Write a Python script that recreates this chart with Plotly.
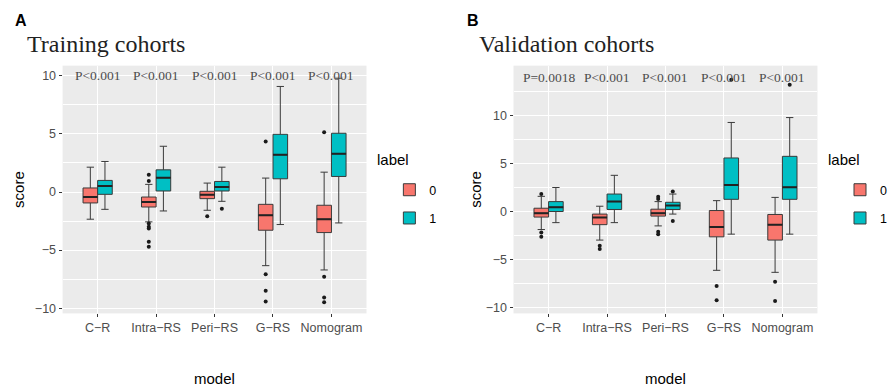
import plotly.graph_objects as go

categories = ["C\u2212R", "Intra\u2212RS", "Peri\u2212RS", "G\u2212RS", "Nomogram"]
group_labels = ["0", "1"]
group_colors = ["#F8766D", "#00BFC4"]

# ---------------- Training cohorts ----------------
train0_low = [-2.34, -2.57, -1.57, -6.34, -6.71]
train0_q1 = [-0.94, -1.29, -0.57, -3.29, -3.49]
train0_med = [-0.43, -0.86, -0.23, -2.00, -2.34]
train0_q3 = [0.35, -0.43, 0.06, -1.06, -1.14]
train0_up = [2.14, 0.66, 0.77, 1.20, 1.71]
train0_out = [[], [1.49, 0.94, -2.70, -3.00, -3.14, -4.29, -4.71], [-2.09],
              [4.34, -7.09, -8.49, -9.43], [5.14, -7.29, -9.09, -9.49]]

train1_low = [-1.49, -1.63, -0.80, -2.80, -2.66]
train1_q1 = [-0.20, 0.09, 0.09, 1.14, 1.34]
train1_med = [0.51, 1.23, 0.43, 3.20, 3.29]
train1_q3 = [1.00, 1.91, 0.91, 4.97, 5.06]
train1_up = [2.63, 3.94, 2.14, 9.09, 9.80]
train1_out = [[], [], [-1.43], [], []]

train_p = ["P<0.001", "P<0.001", "P<0.001", "P<0.001", "P<0.001"]

# ---------------- Validation cohorts ----------------
valid0_low = [-1.88, -2.98, -1.50, -6.13, -6.34]
valid0_q1 = [-0.58, -1.37, -0.48, -2.64, -2.98]
valid0_med = [-0.17, -0.62, -0.17, -1.61, -1.37]
valid0_q3 = [0.34, -0.27, 0.24, 0.10, -0.31]
valid0_up = [1.58, 0.55, 1.03, 1.13, 1.47]
valid0_out = [[1.82, -2.19, -2.64], [-3.56, -3.90], [1.54, 1.30, -2.12, -2.36],
              [-7.77, -9.25], [-7.33, -9.32]]

valid1_low = [-1.16, -1.16, -0.27, -2.36, -2.36]
valid1_q1 = [0.00, 0.21, 0.21, 1.27, 1.27]
valid1_med = [0.45, 1.03, 0.62, 2.77, 2.53]
valid1_q3 = [1.03, 1.82, 0.96, 5.58, 5.75]
valid1_up = [2.50, 3.77, 1.82, 9.28, 9.79]
valid1_out = [[], [], [2.09, -0.99], [13.73], [13.22]]

valid_p = ["P=0.0018", "P<0.001", "P<0.001", "P<0.001", "P<0.001"]

y_ticks = [-10, -5, 0, 5, 10]

W, H = 892, 392
BOXW = 0.25
DODGE = [-0.125, 0.125]

fig = go.Figure()

panels = [
    dict(xa="x", ya="y", legend="legend",
         groups=[(train0_low, train0_q1, train0_med, train0_q3, train0_up, train0_out),
                 (train1_low, train1_q1, train1_med, train1_q3, train1_up, train1_out)],
         pvals=train_p, p_y=10.0),
    dict(xa="x2", ya="y2", legend="legend2",
         groups=[(valid0_low, valid0_q1, valid0_med, valid0_q3, valid0_up, valid0_out),
                 (valid1_low, valid1_q1, valid1_med, valid1_q3, valid1_up, valid1_out)],
         pvals=valid_p, p_y=14.0),
]

LINE = "#3a3a3a"
for pi, pan in enumerate(panels):
    for gi, (lo, q1, med, q3, up, outs) in enumerate(pan["groups"]):
        xs = [i + DODGE[gi] for i in range(len(categories))]
        fig.add_trace(go.Box(
            x=xs, q1=q1, median=med, q3=q3, lowerfence=lo, upperfence=up,
            width=BOXW, whiskerwidth=0.5, fillcolor=group_colors[gi],
            line=dict(color=LINE, width=1), name=group_labels[gi],
            legend=pan["legend"], legendgroup=f"{pi}_{gi}",
            xaxis=pan["xa"], yaxis=pan["ya"], boxpoints=False, hoverinfo="skip"))
        # thicker median lines
        mx, my = [], []
        for x, m in zip(xs, med):
            mx += [x - BOXW / 2, x + BOXW / 2, None]
            my += [m, m, None]
        fig.add_trace(go.Scatter(x=mx, y=my, mode="lines",
                                 line=dict(color="#222222", width=2),
                                 showlegend=False, xaxis=pan["xa"], yaxis=pan["ya"],
                                 hoverinfo="skip"))
        ox, oy = [], []
        for x, o in zip(xs, outs):
            ox += [x] * len(o)
            oy += o
        fig.add_trace(go.Scatter(x=ox, y=oy, mode="markers",
                                 marker=dict(color="#1a1a1a", size=4),
                                 showlegend=False, xaxis=pan["xa"], yaxis=pan["ya"],
                                 hoverinfo="skip"))
    for i, p in enumerate(pan["pvals"]):
        fig.add_annotation(x=i, y=pan["p_y"], xref=pan["xa"], yref=pan["ya"], text=p,
                           showarrow=False, yanchor="middle",
                           font=dict(family="Liberation Serif", size=13.5, color="#4D4D4D"))

ydom = [1 - 315 / H, 1 - 66 / H]
axis_common = dict(showline=False, zeroline=False, ticks="outside", ticklen=3,
                   tickcolor="#333333", gridcolor="white", gridwidth=1.1,
                   tickfont=dict(family="Liberation Sans", size=12.5, color="#4D4D4D"))
leg_common = dict(xanchor="left", y=1 - 176 / H, yanchor="top",
                  font=dict(family="Liberation Sans", size=12.5, color="black"),
                  bgcolor="rgba(0,0,0,0)", tracegroupgap=9, itemwidth=30)
fig.update_layout(
    xaxis=dict(domain=[63 / W, 369 / W], range=[-0.6, 4.6], tickvals=list(range(5)),
               ticktext=categories, anchor="y", **axis_common),
    yaxis=dict(domain=ydom, range=[-10.45, 10.88], tickvals=y_ticks, anchor="x",
               minor=dict(tickvals=[-7.5, -2.5, 2.5, 7.5], showgrid=True, gridcolor="white",
                          gridwidth=0.5),
               **axis_common),
    xaxis2=dict(domain=[517 / W, 823 / W], range=[-0.6, 4.6], tickvals=list(range(5)),
                ticktext=categories, anchor="y2", **axis_common),
    yaxis2=dict(domain=ydom, range=[-10.62, 15.2], tickvals=y_ticks, anchor="x2",
                minor=dict(tickvals=[-7.5, -2.5, 2.5, 7.5, 12.5], showgrid=True,
                           gridcolor="white", gridwidth=0.5),
                **axis_common),
    plot_bgcolor="#EBEBEB", paper_bgcolor="white",
    width=W, height=H, margin=dict(l=0, r=0, t=0, b=0),
    showlegend=True,
    legend=dict(x=392 / W, **leg_common),
    legend2=dict(x=846 / W, **leg_common),
)

# legend titles
for x in [378, 832]:
    fig.add_annotation(x=x / W, y=1 - 160 / H, xref="paper", yref="paper", text="label",
                       showarrow=False, xanchor="left", yanchor="middle",
                       font=dict(family="Liberation Sans", size=15, color="black"))

# panel letters and titles
for x, letter, title in [(13, "A", "Training cohorts"), (468, "B", "Validation cohorts")]:
    fig.add_annotation(x=x / W, y=1 - 21 / H, xref="paper", yref="paper", text=f"<b>{letter}</b>",
                       showarrow=False, xanchor="left", yanchor="middle",
                       font=dict(family="Liberation Sans", size=16, color="black"))
    fig.add_annotation(x=(x + 12) / W, y=1 - 44 / H, xref="paper", yref="paper", text=title,
                       showarrow=False, xanchor="left", yanchor="middle",
                       font=dict(family="Liberation Serif", size=24, color="#222222"))

# axis titles
for x in [216, 670]:
    fig.add_annotation(x=x / W, y=1 - 380 / H, xref="paper", yref="paper", text="model",
                       showarrow=False, xanchor="center", yanchor="middle",
                       font=dict(family="Liberation Sans", size=15, color="black"))
for x in [18, 478]:
    fig.add_annotation(x=x / W, y=1 - 190 / H, xref="paper", yref="paper", text="score",
                       textangle=-90, showarrow=False, xanchor="center", yanchor="middle",
                       font=dict(family="Liberation Sans", size=15, color="black"))

fig.write_html("out.html")
